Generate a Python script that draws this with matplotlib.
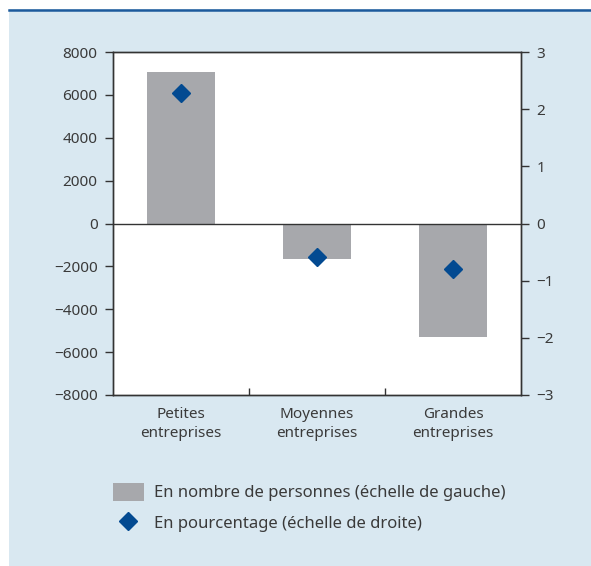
import numpy as np
import matplotlib.pyplot as plt
from matplotlib.patches import Patch
from matplotlib.lines import Line2D

plt.rcParams['font.family'] = ['Noto Sans', 'DejaVu Sans']

categories = ['Petites\nentreprises', 'Moyennes\nentreprises', 'Grandes\nentreprises']
personnes = [7050, -1650, -5300]
pourcentage = [2.29, -0.59, -0.80]
left_ticks = [-8000, -6000, -4000, -2000, 0, 2000, 4000, 6000, 8000]
right_ticks = [-3, -2, -1, 0, 1, 2, 3]

bg = '#d9e8f1'
txt = '#3a3a3a'
spine = '#333333'

fig = plt.figure(figsize=(5.91, 5.66), dpi=100)
fig.patch.set_facecolor('white')
# panel background and top rule
fig.patches.append(plt.Rectangle((9 / 591, 0), 1, 1 - 9 / 566, transform=fig.transFigure,
                                 facecolor=bg, edgecolor='none', zorder=-5))
fig.lines.append(Line2D([9 / 591, 1], [1 - 10 / 566, 1 - 10 / 566], transform=fig.transFigure,
                        color='#1d5a9c', lw=1.8, zorder=-4))

ax = fig.add_axes([113 / 591, 171 / 566, 408 / 591, 343 / 566])
ax.set_facecolor('white')
x = np.arange(len(categories))
ax.bar(x, personnes, width=0.5, color='#a7a8ac', zorder=2)
ax.axhline(0, color=spine, lw=1, zorder=3)
ax.set_xlim(-0.5, 2.5)
ax.set_ylim(-8000, 8000)
ax.set_yticks(left_ticks)
ax.set_yticklabels([str(t).replace('-', '\u2212') for t in left_ticks])
ax.set_xticks(x)
ax.set_xticklabels(categories, linespacing=1.3)
ax.set_xticks([0.5, 1.5], minor=True)
ax.tick_params(axis='x', which='major', length=0, pad=9, labelsize=11, colors=txt)
ax.tick_params(axis='x', which='minor', direction='in', length=5, width=1, color=spine)
ax.tick_params(axis='y', direction='out', length=6, width=1, color=spine, labelsize=11,
               labelcolor=txt, pad=5)
for s in ax.spines.values():
    s.set_color(spine)
    s.set_linewidth(1)

ax2 = ax.twinx()
ax2.plot(x, pourcentage, linestyle='none', marker='D', markersize=9.5,
         color='#034a91', zorder=4)
ax2.set_ylim(-3, 3)
ax2.set_yticks(right_ticks)
ax2.set_yticklabels([str(t).replace('-', '\u2212') for t in right_ticks])
ax2.tick_params(axis='y', direction='out', length=6, width=1, color=spine, labelsize=11,
                labelcolor=txt, pad=5)
for s in ax2.spines.values():
    s.set_color(spine)
    s.set_linewidth(1)

handles = [Patch(facecolor='#a7a8ac', edgecolor='none'),
           Line2D([], [], linestyle='none', marker='D', markersize=9.5, color='#034a91')]
labels = ['En nombre de personnes (échelle de gauche)', 'En pourcentage (échelle de droite)']
leg = fig.legend(handles, labels, loc='upper left', bbox_to_anchor=(113 / 591, 1 - 483 / 566),
                 frameon=False, fontsize=12, handlelength=1.85, handleheight=1.25,
                 handletextpad=0.6, labelspacing=0.75, borderaxespad=0, borderpad=0)
for t in leg.get_texts():
    t.set_color(txt)

fig.savefig('out.png', dpi=100, facecolor=fig.get_facecolor())
